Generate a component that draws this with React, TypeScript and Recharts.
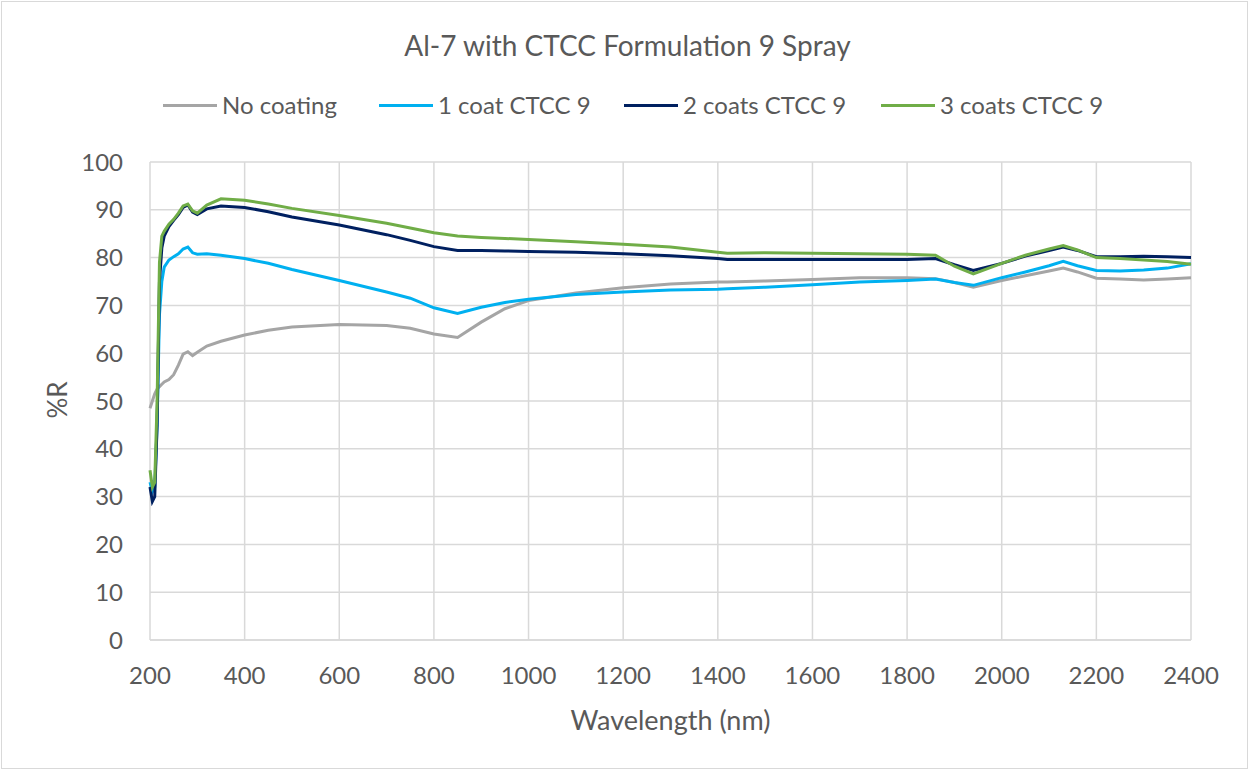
import React from 'react';
import { LineChart, Line, XAxis, YAxis, CartesianGrid } from 'recharts';

const wavelengths = [
    200, 205, 210, 215, 220, 225, 230, 240, 250, 260, 270, 280, 290, 300, 320, 350, 400, 450, 500, 600,
    700, 750, 800, 850, 900, 950, 1000, 1100, 1200, 1300, 1400, 1420, 1500, 1600, 1700, 1800, 1860, 1900,
    1940, 2000, 2050, 2100, 2130, 2160, 2200, 2250, 2300, 2350, 2400,
];

const noCoating = [
    48.5, 50, 51.5, 52.5, 53, 53.5, 54, 54.5, 55.5, 57.5, 59.8, 60.3, 59.5, 60.2, 61.5, 62.5, 63.8, 64.8, 65.5, 66,
    65.8, 65.2, 64, 63.3, 66.5, 69.3, 71, 72.6, 73.7, 74.5, 74.9, 74.9, 75.1, 75.4, 75.8, 75.8, 75.6, 74.8,
    73.8, 75.2, 76.2, 77.2, 77.8, 77, 75.7, 75.5, 75.3, 75.5, 75.8,
];

const oneCoat = [
    33, 31, 32, 45, 68, 75, 78, 79.5, 80.2, 80.8, 81.8, 82.2, 81, 80.7, 80.8, 80.5, 79.8, 78.8, 77.5, 75.2,
    72.8, 71.5, 69.5, 68.3, 69.6, 70.6, 71.3, 72.3, 72.8, 73.2, 73.4, 73.5, 73.8, 74.3, 74.9, 75.2, 75.5, 74.8,
    74.2, 75.8, 77, 78.3, 79.2, 78.3, 77.3, 77.2, 77.4, 77.8, 78.7,
];

const twoCoats = [
    32, 29, 30, 45, 75, 82, 84.5, 86.5, 87.8, 89, 90.5, 91, 89.5, 89, 90.2, 90.8, 90.5, 89.6, 88.5, 86.8,
    84.8, 83.6, 82.3, 81.5, 81.5, 81.4, 81.3, 81.1, 80.8, 80.4, 79.8, 79.6, 79.6, 79.6, 79.6, 79.6, 79.8, 78.5,
    77.3, 78.8, 80.3, 81.5, 82.2, 81.5, 80.2, 80.2, 80.3, 80.2, 80,
];

const threeCoats = [
    35.5, 32, 33, 50, 79, 84.5, 85.5, 87, 88, 89.3, 90.8, 91.2, 89.8, 89.3, 91, 92.3, 92, 91.2, 90.3, 88.8,
    87.2, 86.2, 85.2, 84.5, 84.2, 84, 83.8, 83.3, 82.8, 82.2, 81.1, 80.9, 81, 80.9, 80.8, 80.7, 80.5, 78.2,
    76.6, 78.8, 80.5, 81.8, 82.5, 81.6, 80, 79.8, 79.5, 79.2, 78.6,
];

const xTicks = [200, 400, 600, 800, 1000, 1200, 1400, 1600, 1800, 2000, 2200, 2400];
const yTicks = [0, 10, 20, 30, 40, 50, 60, 70, 80, 90, 100];

const series = [
    { key: 'noCoating', name: 'No coating', color: '#a5a5a5' },
    { key: 'oneCoat', name: '1 coat CTCC 9', color: '#00b0f0' },
    { key: 'twoCoats', name: '2 coats CTCC 9', color: '#002060' },
    { key: 'threeCoats', name: '3 coats CTCC 9', color: '#70ad47' },
];

const data = wavelengths.map((wl, i) => ({
    wl,
    noCoating: noCoating[i],
    oneCoat: oneCoat[i],
    twoCoats: twoCoats[i],
    threeCoats: threeCoats[i],
}));

const FONT = 'Lato, "Open Sans", sans-serif';
const TEXT = '#595959';
const legendLeft = [163, 379, 624, 881];

export default function App() {
    return (
        <div
            style={{
                position: 'absolute',
                left: 0,
                top: 0,
                width: 1249,
                height: 770,
                background: '#fff',
                fontFamily: FONT,
            }}
        >
            <div
                style={{
                    position: 'absolute',
                    left: 1,
                    top: 1,
                    width: 1245,
                    height: 766,
                    border: '1px solid #d9d9d9',
                }}
            />
            <div
                style={{
                    position: 'absolute',
                    top: 28,
                    left: 0,
                    width: 1255,
                    textAlign: 'center',
                    fontSize: 28,
                    lineHeight: '34px',
                    color: TEXT,
                }}
            >
                Al-7 with CTCC Formulation 9 Spray
            </div>
            {series.map((s, i) => (
                <div
                    key={s.key}
                    style={{
                        position: 'absolute',
                        left: legendLeft[i],
                        top: 90,
                        height: 30,
                        display: 'flex',
                        alignItems: 'center',
                        fontSize: 24,
                        lineHeight: '30px',
                        color: TEXT,
                        whiteSpace: 'nowrap',
                    }}
                >
                    <span style={{ display: 'inline-block', width: 54, height: 3, background: s.color, marginRight: 5 }} />
                    {s.name}
                </div>
            ))}
            <div
                style={{
                    position: 'absolute',
                    left: 150,
                    width: 1041,
                    top: 704,
                    textAlign: 'center',
                    fontSize: 27,
                    lineHeight: '32px',
                    color: TEXT,
                }}
            >
                Wavelength (nm)
            </div>
            <div
                style={{
                    position: 'absolute',
                    left: 57,
                    top: 400,
                    transform: 'translate(-50%, -50%) rotate(-90deg)',
                    fontSize: 26,
                    lineHeight: '30px',
                    color: TEXT,
                }}
            >
                %R
            </div>
            <LineChart
                width={1249}
                height={770}
                data={data}
                margin={{ top: 162, right: 58, left: 0, bottom: 0 }}
                style={{ position: 'absolute', left: 0, top: 0 }}
            >
                <CartesianGrid stroke="#d9d9d9" strokeWidth={1.5} />
                <XAxis
                    dataKey="wl"
                    type="number"
                    domain={[200, 2400]}
                    ticks={xTicks}
                    height={130}
                    tickLine={false}
                    tickMargin={21}
                    axisLine={{ stroke: '#d9d9d9', strokeWidth: 1.5 }}
                    tick={{ fontSize: 24, fill: TEXT, fontFamily: FONT }}
                    interval={0}
                />
                <YAxis
                    type="number"
                    domain={[0, 100]}
                    ticks={yTicks}
                    width={150}
                    tickLine={false}
                    axisLine={false}
                    tickMargin={21}
                    tick={{ fontSize: 24, fill: TEXT, fontFamily: FONT }}
                    interval={0}
                />
                {series.map((s) => (
                    <Line
                        key={s.key}
                        type="linear"
                        dataKey={s.key}
                        name={s.name}
                        stroke={s.color}
                        strokeWidth={3}
                        dot={false}
                        isAnimationActive={false}
                    />
                ))}
            </LineChart>
        </div>
    );
}
